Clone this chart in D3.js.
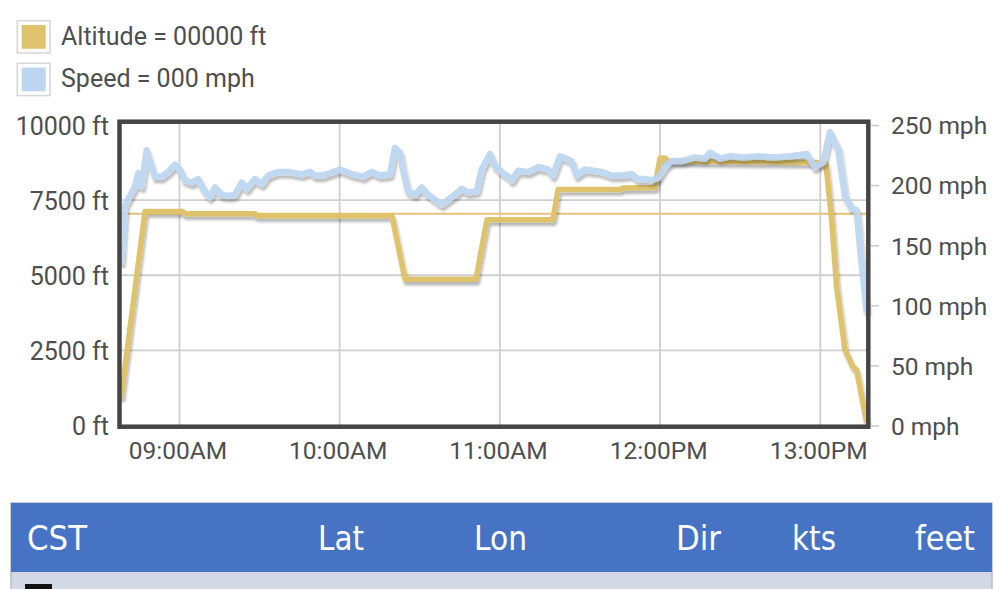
<!DOCTYPE html>
<html>
<head>
<meta charset="utf-8">
<script src="https://cdn.jsdelivr.net/npm/d3@7"></script>
<style>
html,body{margin:0;padding:0;background:#fff;}
svg{display:block;}
</style>
</head>
<body>
<svg id="chart" width="1000" height="589"></svg>
<script>
// ---------------- DATA ----------------
const legendLabels = ["Altitude = 00000 ft", "Speed = 000 mph"];
const altTicks = [0, 2500, 5000, 7500, 10000];
const speedTicks = [0, 50, 100, 150, 200, 250];
const timeTicks = ["09:00:00", "10:00:00", "11:00:00", "12:00:00", "13:00:00"];
const timeDomain = ["08:37:32", "13:17:59"];
const refAltitude = 7050;

const altTimes = ["08:38:05","08:47:05","09:01:19","09:02:04","09:28:17","09:28:54","10:19:35","10:24:28",
  "10:51:03","10:55:10","11:19:53","11:21:46","11:44:59","11:46:00","11:58:05","11:59:58","12:01:50",
  "12:03:00","12:30:00","13:00:00","13:02:08","13:04:16","13:06:08","13:09:15","13:12:14","13:13:38","13:17:22"];
const altValues = [900,7120,7120,7050,7050,6980,6980,4870,
  4870,6850,6850,7850,7850,7900,7920,8900,8900,
  8800,8780,8750,8700,6850,4620,2520,1950,1850,100];

const speedTimes = ["08:38:05","08:39:35","08:41:28","08:43:20","08:44:34","08:45:50","08:47:43","08:48:57",
  "08:50:49","08:53:20","08:55:48","08:58:19","09:00:11","09:02:04","09:04:34","09:07:02","09:08:55",
  "09:11:25","09:13:18","09:15:48","09:18:17","09:20:47","09:23:18","09:25:10","09:28:17","09:30:47",
  "09:33:16","09:37:00","09:40:45","09:45:46","09:48:53","09:50:45","09:53:45","10:00:07","10:04:59",
  "10:08:44","10:11:59","10:15:05","10:18:50","10:20:43","10:22:35","10:23:43","10:25:35","10:28:12",
  "10:30:43","10:33:11","10:35:41","10:38:12","10:40:40","10:43:11","10:45:41","10:48:10","10:51:19",
  "10:53:11","10:56:17","10:58:10","11:00:40","11:03:47","11:04:25","11:06:53","11:10:38","11:14:23",
  "11:18:08","11:19:53","11:22:31","11:25:01","11:26:53","11:28:46","11:31:52","11:34:59","11:38:07",
  "11:41:52","11:45:37","11:49:22","11:51:50","11:54:20","11:56:51","11:59:19","12:01:50","12:04:20",
  "12:08:05","12:13:04","12:16:49","12:18:41","12:22:26","12:26:11","12:31:10","12:36:47","12:42:23",
  "12:48:39","12:54:54","12:58:01","13:01:07","13:03:37","13:06:44","13:09:15","13:11:45","13:13:38",
  "13:14:52","13:17:22"];
const speedValues = [134,183,191,199,210,199,229,219,
  207,207,211,217,213,204,202,205,197,
  190,198,192,191,192,202,197,205,201,
  208,211,211,209,211,208,208,213,209,
  207,211,208,209,231,227,213,195,192,
  198,192,188,184,188,192,197,194,195,
  213,226,216,211,206,204,212,211,215,
  213,208,224,222,220,208,213,212,211,
  208,208,209,205,205,204,206,215,220,
  220,223,222,227,222,224,223,224,223,
  224,226,215,219,244,230,191,181,179,
  149,94];

const tableHeaders = ["CST", "Lat", "Lon", "Dir", "kts", "feet"];

// ---------------- LAYOUT ----------------
const svg = d3.select("#chart");
const plot = {left: 119.5, right: 868.3, top: 121.7, bottom: 426.7};
const yTop = 125, yBottom = 425.5;
const parseT = d3.timeParse("%H:%M:%S");
const fmtT = d3.timeFormat("%H:%M%p");

const x = d3.scaleTime().domain(timeDomain.map(parseT)).range([plot.left, plot.right]);
const yAlt = d3.scaleLinear().domain([0, 10000]).range([yBottom, yTop]);
const ySpd = d3.scaleLinear().domain([0, 250]).range([yBottom, yTop]);

const altData = altTimes.map((t, i) => ({t: parseT(t), v: altValues[i]}));
const spdData = speedTimes.map((t, i) => ({t: parseT(t), v: speedValues[i]}));

const goldC = "#dec26c";
const blueC = "#bcd5f0";
const textC = "#4e4e4e";
const font = "Roboto, 'Noto Sans', sans-serif";

const defs = svg.append("defs");
const f = defs.append("filter").attr("id", "shadow").attr("x", "-5%").attr("y", "-5%").attr("width", "110%").attr("height", "120%");
f.append("feDropShadow").attr("dx", 1.5).attr("dy", 3.5).attr("stdDeviation", 1.3)
  .attr("flood-color", "#000").attr("flood-opacity", 0.28);

// Legend
const legColors = [goldC, blueC];
const legTop = [20.7, 63.3];
const legBaseline = [45, 87];
legendLabels.forEach((lab, i) => {
  svg.append("rect").attr("x", 17.3).attr("y", legTop[i]).attr("width", 32.7).attr("height", 32.3)
    .attr("fill", "#fff").attr("stroke", "#d6d6d6").attr("stroke-width", 1.5);
  svg.append("rect").attr("x", 21.7).attr("y", legTop[i] + 4.3).attr("width", 24).attr("height", 23.7)
    .attr("fill", legColors[i]);
  svg.append("text").attr("x", 61).attr("y", legBaseline[i]).text(lab)
    .attr("font-family", font).attr("font-size", 25).attr("fill", textC);
});

// Gridlines
const grid = svg.append("g");
grid.selectAll("line.h").data(altTicks.filter(d => d > 0 && d < 10000)).join("line")
  .attr("x1", plot.left).attr("x2", plot.right)
  .attr("y1", d => yAlt(d)).attr("y2", d => yAlt(d))
  .attr("stroke", "#cfcfcf").attr("stroke-width", 1.8);
grid.selectAll("line.v").data(timeTicks.map(parseT)).join("line")
  .attr("x1", d => x(d)).attr("x2", d => x(d))
  .attr("y1", plot.top).attr("y2", plot.bottom)
  .attr("stroke", "#cfcfcf").attr("stroke-width", 1.8);

// Reference altitude line
svg.append("line")
  .attr("x1", x(parseT(altTimes[0]))).attr("x2", x(parseT(speedTimes[speedTimes.length - 1])))
  .attr("y1", yAlt(refAltitude)).attr("y2", yAlt(refAltitude))
  .attr("stroke", "#e0c37e").attr("stroke-width", 2);

// Lines
const altLine = d3.line().x(d => x(d.t)).y(d => yAlt(d.v));
const spdLine = d3.line().x(d => x(d.t)).y(d => ySpd(d.v));

svg.append("path").datum(altData).attr("d", altLine)
  .attr("fill", "none").attr("stroke", goldC).attr("stroke-width", 5.5)
  .attr("stroke-linejoin", "round").attr("stroke-linecap", "butt")
  .attr("filter", "url(#shadow)");
svg.append("path").datum(spdData).attr("d", spdLine)
  .attr("fill", "none").attr("stroke", blueC).attr("stroke-width", 6.5).attr("opacity", 0.92)
  .attr("stroke-linejoin", "round").attr("stroke-linecap", "butt")
  .attr("filter", "url(#shadow)");

// Frame
svg.append("rect").attr("x", plot.left).attr("y", plot.top)
  .attr("width", plot.right - plot.left).attr("height", plot.bottom - plot.top)
  .attr("fill", "none").attr("stroke", "#454545").attr("stroke-width", 4.5);

// Left axis
const leftAxis = d3.axisLeft(yAlt).tickValues(altTicks).tickSize(0).tickPadding(0)
  .tickFormat(d => d + " ft");
const gL = svg.append("g").attr("transform", "translate(109,0)").call(leftAxis);
gL.select(".domain").remove();
gL.selectAll("text").attr("font-family", font).attr("font-size", 25).attr("fill", textC).attr("dy", "0.36em");

// Right axis
const rightAxis = d3.axisRight(ySpd).tickValues(speedTicks).tickSize(8).tickPadding(12)
  .tickFormat(d => d + " mph");
const gR = svg.append("g").attr("transform", "translate(871,0)").call(rightAxis);
gR.select(".domain").remove();
gR.selectAll("line").attr("stroke", "#c8c8c8").attr("stroke-width", 1.5);
gR.selectAll("text").attr("font-family", font).attr("font-size", 24.5).attr("fill", textC).attr("dy", "0.36em");

// Bottom axis
const bottomAxis = d3.axisBottom(x).tickValues(timeTicks.map(parseT)).tickSize(0).tickPadding(0)
  .tickFormat(fmtT);
const gB = svg.append("g").attr("transform", "translate(-2,439)").call(bottomAxis);
gB.select(".domain").remove();
gB.selectAll("text").attr("font-family", font).attr("font-size", 24.5).attr("fill", textC).attr("dy", "0.8em");

// Table header
svg.append("rect").attr("x", 11).attr("y", 503).attr("width", 981).attr("height", 90)
  .attr("fill", "#d2d9e5").attr("stroke", "#b8bcc4").attr("stroke-width", 1.5);
svg.append("rect").attr("x", 11).attr("y", 503).attr("width", 981).attr("height", 69)
  .attr("fill", "#4673c3");
const hdrX = [27, 318, 474, 676, 792, 915];
const hdrW = [60, 46, 53, 45, 44, 60];
tableHeaders.forEach((h, i) => {
  svg.append("text").attr("x", hdrX[i]).attr("y", 550).text(h)
    .attr("font-family", "'Liberation Sans Narrow', 'DejaVu Sans Condensed', sans-serif")
    .attr("font-size", 34).attr("fill", "#fff")
    .attr("textLength", hdrW[i]).attr("lengthAdjust", "spacingAndGlyphs");
});
svg.append("rect").attr("x", 25).attr("y", 584).attr("width", 27).attr("height", 6).attr("fill", "#111");
</script>
</body>
</html>
